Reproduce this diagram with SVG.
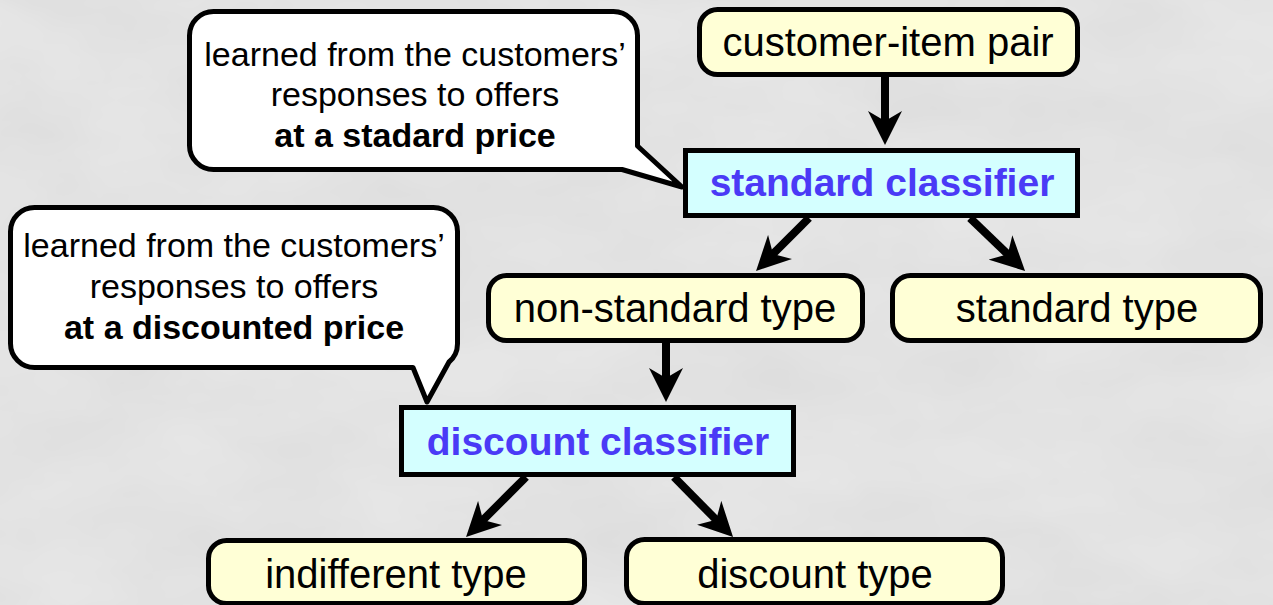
<svg xmlns="http://www.w3.org/2000/svg" width="1273" height="605" viewBox="0 0 1273 605">
  <defs>
    <style>
      .node { stroke: #000; stroke-width: 5; }
      .item { fill: #ffffd6; }
      .clf { fill: #d4ffff; }
      .bubble { fill: #fff; stroke: #000; stroke-width: 5; stroke-linejoin: round; }
      .label { font-family: "Liberation Sans", Arial, Helvetica, sans-serif; font-size: 40px; fill: #000; text-anchor: middle; }
      .clf-label { font-family: "Liberation Sans", Arial, Helvetica, sans-serif; font-size: 39px; font-weight: bold; fill: #4a3af6; text-anchor: middle; }
      .note { font-family: "Liberation Sans", Arial, Helvetica, sans-serif; font-size: 34px; fill: #000; text-anchor: middle; }
      .note-b { font-weight: bold; }
      .edge { stroke: #000; stroke-width: 8; fill: none; marker-end: url(#head); }
    </style>
    <marker id="head" viewBox="0 0 34 34" markerWidth="34" markerHeight="34" refX="12" refY="17" orient="auto" markerUnits="userSpaceOnUse">
      <path d="M34,17 L0,0 L10,17 L0,34 Z" fill="#000"/>
    </marker>
    <filter id="paper" x="0" y="0" width="100%" height="100%">
      <feTurbulence type="fractalNoise" baseFrequency="0.006 0.012" numOctaves="4" seed="7" result="n"/>
      <feColorMatrix in="n" type="matrix" values="0 0 0 0 0.55  0 0 0 0 0.55  0 0 0 0 0.55  0 0 0 0.35 -0.08"/>
    </filter>
  </defs>

  <!-- paper background -->
  <rect width="1273" height="605" fill="#e6e6e6"/>
  <rect width="1273" height="605" filter="url(#paper)"/>

  <!-- speech bubbles -->
  <g id="note-standard">
    <path class="bubble" d="M213.5,11.5 H613.5 A24,24 0 0 1 637.5,35.5 V146 L682,187 L622,169.5 H213.5 A24,24 0 0 1 189.5,145.5 V35.5 A24,24 0 0 1 213.5,11.5 Z"/>
    <text class="note" x="415" y="66">learned from the customers’</text>
    <text class="note" x="415" y="106">responses to offers</text>
    <text class="note note-b" x="415" y="147">at a stadard price</text>
  </g>
  <g id="note-discount">
    <path class="bubble" d="M34.5,207.5 H433.5 A24,24 0 0 1 457.5,231.5 V343.5 A24,24 0 0 1 449,362 L427,402 L413,367.5 H34.5 A24,24 0 0 1 10.5,343.5 V231.5 A24,24 0 0 1 34.5,207.5 Z"/>
    <text class="note" x="234" y="257">learned from the customers’</text>
    <text class="note" x="234" y="298">responses to offers</text>
    <text class="note note-b" x="234" y="339">at a discounted price</text>
  </g>

  <!-- nodes -->
  <g id="customer-item-pair">
    <rect class="node item" x="699.5" y="9.5" width="378" height="65" rx="18"/>
    <text class="label" x="888" y="56">customer-item pair</text>
  </g>
  <g id="standard-classifier">
    <rect class="node clf" x="685.5" y="150.5" width="392" height="65"/>
    <text class="clf-label" x="882" y="196">standard classifier</text>
  </g>
  <g id="non-standard-type">
    <rect class="node item" x="488.5" y="275.5" width="374" height="65" rx="18"/>
    <text class="label" x="675" y="322">non-standard type</text>
  </g>
  <g id="standard-type">
    <rect class="node item" x="892.5" y="275.5" width="368" height="65" rx="18"/>
    <text class="label" x="1077" y="322">standard type</text>
  </g>
  <g id="discount-classifier">
    <rect class="node clf" x="401.5" y="407.5" width="392" height="67"/>
    <text class="clf-label" x="598" y="455">discount classifier</text>
  </g>
  <g id="indifferent-type">
    <rect class="node item" x="208.5" y="540.5" width="376" height="63" rx="18"/>
    <text class="label" x="396" y="588">indifferent type</text>
  </g>
  <g id="discount-type">
    <rect class="node item" x="626.5" y="539.5" width="376" height="64" rx="18"/>
    <text class="label" x="815" y="588">discount type</text>
  </g>

  <!-- connectors -->
  <g id="connectors">
    <line class="edge" x1="885" y1="77" x2="885" y2="123"/>
    <line class="edge" x1="809" y1="218" x2="771.6" y2="255.4"/>
    <line class="edge" x1="970" y1="218" x2="1009.2" y2="255.7"/>
    <line class="edge" x1="666" y1="343" x2="666" y2="380"/>
    <line class="edge" x1="526" y1="477" x2="481.6" y2="521.4"/>
    <line class="edge" x1="674" y1="477" x2="717.6" y2="521.3"/>
  </g>
</svg>
